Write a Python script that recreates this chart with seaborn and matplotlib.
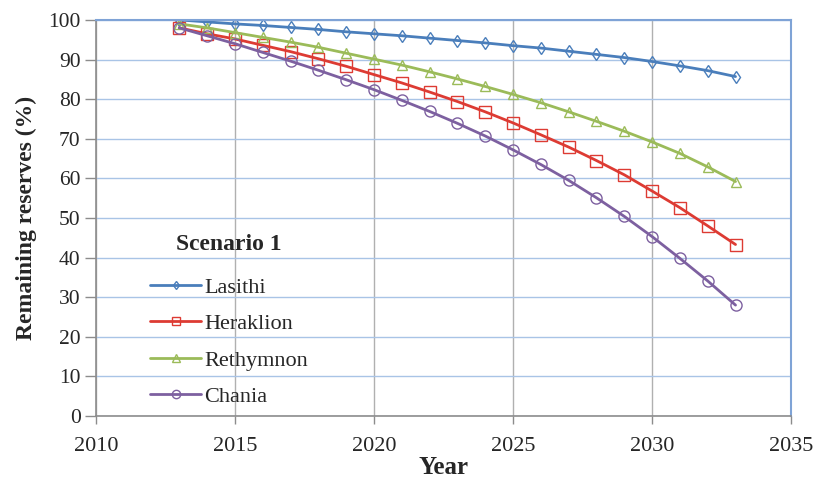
import numpy as np
import pandas as pd
import matplotlib
matplotlib.use("Agg")
import matplotlib.pyplot as plt
import seaborn as sns

# ---- data ----
years = list(range(2013, 2034))

lasithi = [100, 99.5, 99.0, 98.6, 98.1, 97.6, 97.0, 96.5, 96.0, 95.4, 94.8,
           94.2, 93.5, 92.9, 92.1, 91.3, 90.5, 89.5, 88.4, 87.2, 85.7]
heraklion = [98.0, 96.5, 95.2, 93.6, 92.0, 90.2, 88.3, 86.2, 84.1, 81.8, 79.4,
             76.8, 74.0, 71.0, 67.9, 64.5, 60.9, 56.8, 52.6, 48.0, 43.3]
rethymnon = [99.0, 98.0, 96.8, 95.6, 94.4, 93.1, 91.6, 90.1, 88.6, 86.9, 85.1,
             83.2, 81.2, 79.1, 76.8, 74.4, 71.9, 69.2, 66.3, 62.9, 59.2]
chania = [98.0, 96.0, 94.0, 91.8, 89.6, 87.3, 84.9, 82.4, 79.7, 76.9, 73.9,
          70.7, 67.2, 63.5, 59.5, 55.1, 50.4, 45.3, 39.8, 34.1, 28.0]

series_names = ["Lasithi", "Heraklion", "Rethymnon", "Chania"]
series_values = [lasithi, heraklion, rethymnon, chania]
colors = ["#4a7ebb", "#dd3b33", "#9bbb59", "#7d60a0"]
markers = ["d", "s", "^", "o"]
marker_sizes = [6, 8, 7, 8]

xticks = [2010, 2015, 2020, 2025, 2030, 2035]
yticks = list(range(0, 101, 10))

# ---- plot ----
sns.set_style("white")
plt.rcParams["font.family"] = ["Liberation Serif", "DejaVu Serif"]

fig, ax = plt.subplots(figsize=(8.19, 4.86), dpi=100)
fig.subplots_adjust(left=0.117, right=0.966, top=0.959, bottom=0.144)

for name, vals, c, m, ms in zip(series_names, series_values, colors, markers, marker_sizes):
    df = pd.DataFrame({"Year": years, "Remaining": vals})
    sns.lineplot(data=df, x="Year", y="Remaining", ax=ax, color=c, linewidth=2,
                 marker=m, markersize=ms, mfc="none", mec=c, mew=1.0, label=name)

ax.set_xlim(2010, 2035)
ax.set_ylim(0, 100)
ax.set_xticks(xticks)
ax.set_yticks(yticks)
ax.tick_params(axis="x", labelsize=16, direction="out", length=6, width=1,
               color="#8c8c8c", pad=9, bottom=True)
ax.tick_params(axis="y", labelsize=15.5, direction="out", length=8, width=1,
               color="#8c8c8c", pad=3, left=True)

# grid: light blue horizontal lines, grey vertical lines
ax.yaxis.grid(True, color="#a9c4e6", linewidth=1)
ax.xaxis.grid(True, color="#b0b0b0", linewidth=1)
ax.set_axisbelow(True)

for side in ["left", "bottom"]:
    ax.spines[side].set_color("#8c8c8c")
    ax.spines[side].set_linewidth(1.2)
for side in ["top", "right"]:
    ax.spines[side].set_color("#7fa3d6")
    ax.spines[side].set_linewidth(1.5)

ax.set_xlabel("Year", fontsize=18, fontweight="bold", labelpad=0)
ax.set_ylabel("Remaining reserves (%)", fontsize=17, fontweight="bold", labelpad=8)

leg = ax.legend(loc="upper left", bbox_to_anchor=(0.078, 0.46), frameon=False,
                title="Scenario 1", fontsize=16, handlelength=2.3,
                handletextpad=0.15, labelspacing=0.72, borderaxespad=0,
                borderpad=0, markerscale=0.75)
leg.get_title().set_fontweight("bold")
leg.get_title().set_fontsize(17)
leg._legend_box.sep = 16

fig.savefig("out.png", dpi=100)
